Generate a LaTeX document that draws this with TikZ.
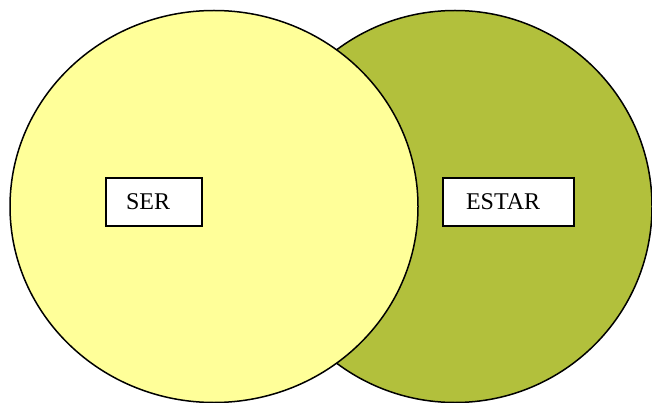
\documentclass[tikz,border=0pt]{standalone}
\usepackage{fontspec}
\setmainfont{Liberation Serif}
\definecolor{venyellow}{RGB}{255,255,153}
\definecolor{venolive}{RGB}{178,192,60}
\tikzset{
  venn/.style={draw=black, line width=1.5pt},
  label box/.style={draw=black, line width=1.5pt, fill=white, rectangle,
    minimum height=48pt, inner ysep=0pt, align=left,
    font=\fontsize{24}{28}\selectfont}
}
\begin{document}
\begin{tikzpicture}[x=1pt,y=-1pt]
  \useasboundingbox (0,0) rectangle (652,403);
  \fill[white] (0,0) rectangle (652,403);
  \draw[venn, fill=venolive] (455,206.5) ellipse [x radius=197, y radius=196];
  \draw[venn, fill=venyellow] (214,206.5) ellipse [x radius=204, y radius=196];
  \node[label box, text width=56pt, inner xsep=20pt] (ser) at (154,202) {\raisebox{-1pt}{SER}};
  \node[label box, text width=85pt, inner xsep=23pt] (estar) at (508.5,202) {\raisebox{-1pt}{ESTAR}};
\end{tikzpicture}
\end{document}
